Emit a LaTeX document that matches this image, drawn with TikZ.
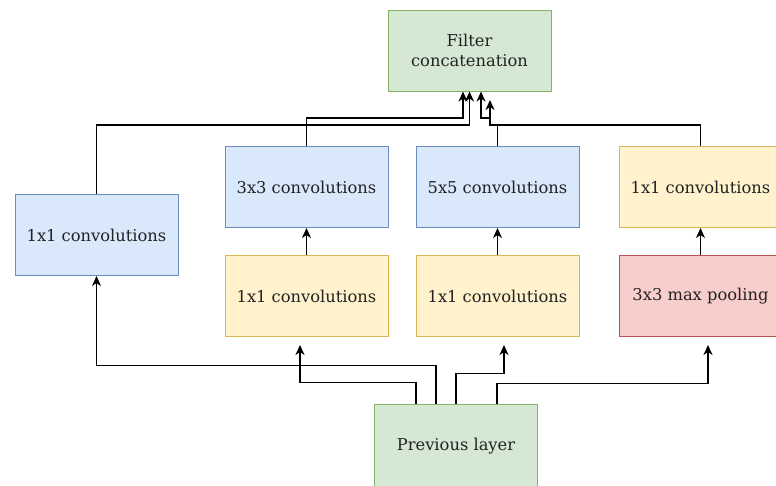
\documentclass[tikz,border=0pt]{standalone}
\usepackage{fontspec}
\setmainfont{DejaVu Serif}
\usetikzlibrary{arrows.meta}
\definecolor{gfill}{HTML}{D5E8D4}\definecolor{gline}{HTML}{82B366}
\definecolor{bfill}{HTML}{DAE8FC}\definecolor{bline}{HTML}{6C8EBF}
\definecolor{yfill}{HTML}{FFF2CC}\definecolor{yline}{HTML}{D6B656}
\definecolor{rfill}{HTML}{F8CECC}\definecolor{rline}{HTML}{B85450}
\definecolor{txt}{HTML}{222222}
\tikzset{
  box/.style={rectangle, minimum width=163pt, minimum height=81pt, inner sep=0pt,
    line width=1pt, align=center, text=txt, font=\fontsize{16.3}{20}\selectfont},
  greenbox/.style={box, fill=gfill, draw=gline},
  bluebox/.style={box, fill=bfill, draw=bline},
  yellowbox/.style={box, fill=yfill, draw=yline},
  redbox/.style={box, fill=rfill, draw=rline},
  arr/.style={draw=black, line width=1.3pt, -{Stealth[length=10pt,width=9pt,inset=3pt]}},
}
\begin{document}
\begin{tikzpicture}[x=1pt,y=-1pt]
  \useasboundingbox (0,0) rectangle (776,485);
  \clip (0,0) rectangle (776,485);
  \fill[white] (0,0) rectangle (776,485);

  % blocks
  \node[greenbox]  (concat) at (469.5,50.5)  {Filter\\concatenation};
  \node[bluebox]   (left)   at (96.5,235)    {1x1 convolutions};
  \node[bluebox]   (c33)    at (306.5,187)   {3x3 convolutions};
  \node[bluebox]   (c55)    at (497.5,187)   {5x5 convolutions};
  \node[yellowbox] (cr)     at (700.5,187)   {1x1 convolutions};
  \node[yellowbox] (r33)    at (306.5,296)   {1x1 convolutions};
  \node[yellowbox] (r55)    at (497.5,296)   {1x1 convolutions};
  \node[redbox]    (pool)   at (700.5,296)   {3x3 max pooling};
  \node[greenbox, minimum height=84pt] (prev) at (456,446) {Previous layer};

  % free arrow ends
  \coordinate (t1) at (300,345);
  \coordinate (t2) at (504,345);
  \coordinate (t3) at (708,345);
  \coordinate (t4) at (490,100);

  % from the previous layer
  \draw[arr] ([xshift=-40pt]prev.north) -- ++(0,-21) -| (t1);
  \draw[arr] ([xshift=-20pt]prev.north) -- ++(0,-38) -| (left.south);
  \draw[arr] (prev.north) -- ++(0,-30) -| (t2);
  \draw[arr] ([xshift=41pt]prev.north) -- ++(0,-20) -| (t3);

  % reductions into the wide convolutions
  \draw[arr] (r33.north) -- (c33.south);
  \draw[arr] (r55.north) -- (c55.south);
  \draw[arr] (pool.north) -- (cr.south);

  % into the concatenation
  \draw[arr] (c33.north) -- (306.5,118) -| ([xshift=-6.5pt]concat.south);
  \draw[arr] (left.north) -- (96.5,125) -| (concat.south);
  \draw[arr] (cr.north) |- (490,125) |- (481,118) -- ([xshift=11.5pt]concat.south);
  \draw[arr] (c55.north) |- (490,125) -- (t4);
\end{tikzpicture}
\end{document}
